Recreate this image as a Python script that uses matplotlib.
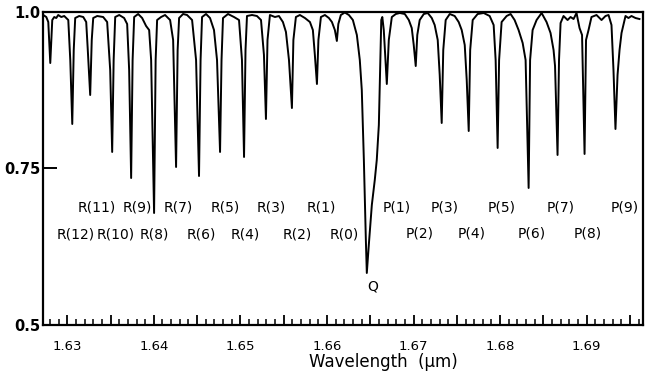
import matplotlib
matplotlib.use("Agg")
import matplotlib.pyplot as plt
from matplotlib.ticker import FixedLocator, FuncFormatter, MultipleLocator

# Spectrum trace (wavelength in um, relative transmittance)
wavelength = [
    1.62723, 1.62758, 1.62781, 1.62804, 1.62827, 1.62850, 1.62873, 1.62896, 1.62931, 1.62965,
    1.63012, 1.63035, 1.63058, 1.63075, 1.63092, 1.63138, 1.63185,
    1.63219, 1.63236, 1.63265, 1.63283, 1.63300, 1.63346, 1.63415,
    1.63461, 1.63496, 1.63519, 1.63536, 1.63554, 1.63600, 1.63657,
    1.63692, 1.63715, 1.63738, 1.63755, 1.63773, 1.63819, 1.63865, 1.63911, 1.63946,
    1.63969, 1.64003, 1.64021, 1.64038, 1.64084, 1.64130, 1.64188,
    1.64223, 1.64257, 1.64275, 1.64292, 1.64338, 1.64384, 1.64442,
    1.64488, 1.64522, 1.64540, 1.64557, 1.64603, 1.64649, 1.64695,
    1.64730, 1.64765, 1.64782, 1.64799, 1.64857, 1.64926, 1.64984,
    1.65018, 1.65042, 1.65059, 1.65076, 1.65134, 1.65191, 1.65238,
    1.65272, 1.65295, 1.65313, 1.65341, 1.65399, 1.65445, 1.65491,
    1.65526, 1.65561, 1.65595, 1.65612, 1.65641, 1.65687, 1.65745,
    1.65803, 1.65837, 1.65860, 1.65884, 1.65901, 1.65930, 1.65976,
    1.66022, 1.66057, 1.66091, 1.66114, 1.66131, 1.66160, 1.66206,
    1.66253, 1.66299, 1.66345, 1.66379, 1.66402, 1.66426, 1.66449,
    1.66460, 1.66483, 1.66518, 1.66552, 1.66575, 1.66599, 1.66616,
    1.66627, 1.66639, 1.66656, 1.66691, 1.66714, 1.66749, 1.66795,
    1.66841, 1.66899, 1.66945, 1.66979, 1.67002, 1.67025, 1.67043,
    1.67071, 1.67118, 1.67164, 1.67210, 1.67244, 1.67279, 1.67302,
    1.67325, 1.67343, 1.67371, 1.67418, 1.67475, 1.67521, 1.67556,
    1.67591, 1.67614, 1.67637, 1.67654, 1.67683, 1.67740, 1.67810,
    1.67879, 1.67925, 1.67948, 1.67971, 1.67988, 1.68017, 1.68075,
    1.68121, 1.68167, 1.68213, 1.68260, 1.68294, 1.68329, 1.68346,
    1.68375, 1.68421, 1.68479, 1.68536, 1.68582, 1.68617, 1.68634,
    1.68663, 1.68680, 1.68698, 1.68732, 1.68779, 1.68813, 1.68848,
    1.68882, 1.68917, 1.68946, 1.68975, 1.68992, 1.69021, 1.69055,
    1.69113, 1.69171, 1.69217, 1.69252, 1.69286, 1.69309, 1.69332,
    1.69356, 1.69379, 1.69402, 1.69448, 1.69482, 1.69517, 1.69563, 1.69609,
]
transmittance = [
    0.9952, 0.9920, 0.9840, 0.9185, 0.9872, 0.9920, 0.9904, 0.9952, 0.9920, 0.9936,
    0.9872, 0.9233, 0.8211, 0.9393, 0.9904, 0.9936, 0.9920,
    0.9840, 0.9425, 0.8674, 0.9553, 0.9904, 0.9936, 0.9920,
    0.9840, 0.9074, 0.7764, 0.9233, 0.9920, 0.9952, 0.9904,
    0.9808, 0.9074, 0.7348, 0.9233, 0.9920, 0.9968, 0.9904, 0.9776, 0.9712,
    0.9233, 0.6789, 0.9233, 0.9872, 0.9920, 0.9952, 0.9872,
    0.9553, 0.7524, 0.9393, 0.9904, 0.9968, 0.9952, 0.9872,
    0.9233, 0.7380, 0.9233, 0.9920, 0.9968, 0.9904, 0.9712,
    0.9233, 0.7764, 0.9233, 0.9904, 0.9968, 0.9920, 0.9872,
    0.9233, 0.7684, 0.9393, 0.9936, 0.9952, 0.9936, 0.9872,
    0.9313, 0.8291, 0.9553, 0.9952, 0.9920, 0.9936, 0.9840,
    0.9681, 0.9233, 0.8466, 0.9553, 0.9920, 0.9952, 0.9904,
    0.9840, 0.9712, 0.9313, 0.8850, 0.9553, 0.9920, 0.9952,
    0.9904, 0.9840, 0.9712, 0.9537, 0.9808, 0.9952, 0.9992,
    0.9952, 0.9872, 0.9633, 0.9233, 0.8754, 0.7636, 0.6358,
    0.5831, 0.6278, 0.6917, 0.7316, 0.7636, 0.8195, 0.9233,
    0.9872, 0.9920, 0.9712, 0.8850, 0.9553, 0.9920, 0.9968,
    0.9984, 0.9968, 0.9872, 0.9744, 0.9473, 0.9137, 0.9633,
    0.9872, 0.9968, 0.9984, 0.9904, 0.9792, 0.9553, 0.8994,
    0.8227, 0.9393, 0.9872, 0.9968, 0.9936, 0.9840, 0.9712,
    0.9473, 0.8914, 0.8099, 0.9393, 0.9872, 0.9968, 0.9984,
    0.9936, 0.9792, 0.9233, 0.7828, 0.9233, 0.9840, 0.9936,
    0.9968, 0.9872, 0.9712, 0.9505, 0.9233, 0.7189, 0.9233,
    0.9712, 0.9872, 0.9984, 0.9840, 0.9665, 0.9393, 0.9137,
    0.7716, 0.9233, 0.9824, 0.9936, 0.9872, 0.9920, 0.9888,
    0.9984, 0.9744, 0.9633, 0.7732, 0.9553, 0.9712, 0.9920,
    0.9952, 0.9872, 0.9936, 0.9952, 0.9792, 0.9074, 0.8131,
    0.8994, 0.9393, 0.9665, 0.9936, 0.9904, 0.9936, 0.9904, 0.9888,
]

# Line identifications
branch_labels = ["R(12)", "R(11)", "R(10)", "R(9)", "R(8)", "R(7)", "R(6)", "R(5)",
                 "R(4)", "R(3)", "R(2)", "R(1)", "R(0)", "Q",
                 "P(1)", "P(2)", "P(3)", "P(4)", "P(5)", "P(6)", "P(7)", "P(8)", "P(9)"]
label_wavelength = [1.63092, 1.63346, 1.63554, 1.63807, 1.64003, 1.64280, 1.64546, 1.64822,
                    1.65053, 1.65353, 1.65653, 1.65930, 1.66195, 1.66529,
                    1.66806, 1.67071, 1.67360, 1.67671, 1.68017, 1.68363, 1.68698, 1.69009, 1.69436]
label_level = [0.645, 0.688, 0.645, 0.688, 0.645, 0.688, 0.645, 0.688,
               0.645, 0.688, 0.645, 0.688, 0.645, 0.561,
               0.688, 0.646, 0.688, 0.646, 0.688, 0.646, 0.688, 0.646, 0.688]

x_ticks = [1.63, 1.64, 1.65, 1.66, 1.67, 1.68, 1.69]
y_ticks = [0.5, 0.75, 1.0]
y_tick_labels = ["0.5", "0.75", "1.0"]

plt.rcParams['font.family'] = ['DejaVu Sans']

fig = plt.figure(figsize=(6.57, 3.77), dpi=100)
ax = fig.add_axes([43 / 657, 1 - 325 / 377, 600 / 657, 313 / 377])

ax.plot(wavelength, transmittance, color="black", linewidth=1.4, solid_joinstyle="round")

for lab, wl, lv in zip(branch_labels, label_wavelength, label_level):
    ax.text(wl, lv, lab, ha="center", va="center", fontsize=10, color="black")

ax.set_xlim(1.6272, 1.6965)
ax.set_ylim(0.5, 1.0)

half_steps = [round(1.63 + 0.005 * i, 3) for i in range(14)]
ax.xaxis.set_major_locator(FixedLocator(half_steps))
ax.xaxis.set_major_formatter(FuncFormatter(
    lambda v, p: (f"{v:.2f}" if any(abs(v - t) < 1e-6 for t in x_ticks) else "")))
ax.xaxis.set_minor_locator(MultipleLocator(0.001))
ax.tick_params(axis="x", which="major", direction="in", length=7.5, width=1.3,
               labelsize=9.5, pad=11)
ax.tick_params(axis="x", which="minor", direction="in", length=4.5, width=1.1)

ax.set_yticks(y_ticks)
ax.set_yticklabels(y_tick_labels, fontweight="bold")
ax.tick_params(axis="y", which="major", direction="in", length=10, width=1.4,
               labelsize=10.5, pad=2)

for s in ax.spines.values():
    s.set_linewidth(1.6)
    s.set_color("black")

ax.set_xlabel("Wavelength  (μm)", fontsize=12, va="center")
ax.xaxis.set_label_coords(0.567, -0.118)

fig.savefig("out.png", dpi=100, facecolor="white")
